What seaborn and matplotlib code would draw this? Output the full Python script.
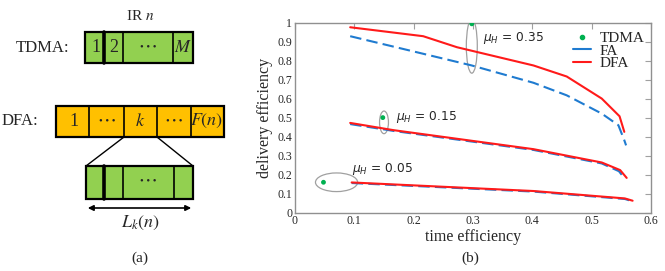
import numpy as np
import pandas as pd
import matplotlib
matplotlib.use("Agg")
import matplotlib.pyplot as plt
import seaborn as sns
from matplotlib.patches import Rectangle, Ellipse
from matplotlib.lines import Line2D

# ---------------- data ----------------
mu_labels = ["0.35", "0.15", "0.05"]

dfa_x_035 = [0.093, 0.216, 0.273, 0.402, 0.458, 0.517, 0.547, 0.555]
dfa_y_035 = [0.975, 0.928, 0.870, 0.774, 0.716, 0.600, 0.507, 0.425]
fa_x_035 = [0.093, 0.298, 0.402, 0.458, 0.517, 0.545, 0.555, 0.558]
fa_y_035 = [0.928, 0.774, 0.683, 0.617, 0.521, 0.460, 0.381, 0.354]

dfa_x_015 = [0.093, 0.166, 0.402, 0.517, 0.548, 0.559]
dfa_y_015 = [0.472, 0.434, 0.334, 0.264, 0.224, 0.183]
fa_x_015 = [0.093, 0.166, 0.402, 0.517, 0.546, 0.556]
fa_y_015 = [0.466, 0.430, 0.330, 0.259, 0.218, 0.178]

dfa_x_005 = [0.0955, 0.402, 0.556, 0.569]
dfa_y_005 = [0.159, 0.114, 0.075, 0.063]
fa_x_005 = [0.0955, 0.402, 0.556, 0.569]
fa_y_005 = [0.156, 0.111, 0.072, 0.060]

tdma_x = [0.298, 0.148, 0.048]
tdma_y = [0.993, 0.500, 0.160]

xticks = [0, 0.1, 0.2, 0.3, 0.4, 0.5, 0.6]
yticks = [0, 0.1, 0.2, 0.3, 0.4, 0.5, 0.6, 0.7, 0.8, 0.9, 1]

rows = []
for mu, (fx, fy, dx, dy) in zip(mu_labels, [
        (fa_x_035, fa_y_035, dfa_x_035, dfa_y_035),
        (fa_x_015, fa_y_015, dfa_x_015, dfa_y_015),
        (fa_x_005, fa_y_005, dfa_x_005, dfa_y_005)]):
    for x, y in zip(fx, fy):
        rows.append(dict(mu=mu, scheme="FA", x=x, y=y))
    for x, y in zip(dx, dy):
        rows.append(dict(mu=mu, scheme="DFA", x=x, y=y))
df = pd.DataFrame(rows)
tdma = pd.DataFrame(dict(x=tdma_x, y=tdma_y, mu=mu_labels))

# ---------------- figure ----------------
sns.set_style("white")
plt.rcParams["font.family"] = ["Liberation Serif", "DejaVu Serif"]
plt.rcParams["mathtext.fontset"] = "stix"

W, H = 665, 271
fig = plt.figure(figsize=(W / 100, H / 100), dpi=100)

# overlay axes in pixel coordinates for panel (a)
ov = fig.add_axes([0, 0, 1, 1])
ov.set_xlim(0, W)
ov.set_ylim(H, 0)
ov.axis("off")

green = "#92D050"
orange = "#FFC000"

def box(x0, x1, y0, y1, color, dividers, thick=()):
    ov.add_patch(Rectangle((x0, y0), x1 - x0, y1 - y0, facecolor=color,
                           edgecolor="black", lw=1.6, zorder=2))
    for d in dividers:
        lw = 2.6 if d in thick else 1.2
        ov.plot([d, d], [y0, y1], color="black", lw=lw, zorder=3)

fs = 12
dots = "• • •"
dfs = 7.5
ov.text(43, 48, "TDMA:", ha="center", va="center", fontsize=fs)
ov.text(140, 16, r"IR $n$", ha="center", va="center", fontsize=11)
box(85, 193, 32, 63, green, [104, 123, 173], thick=(104,))
for x, t in [(96, "1"), (114, "2"), (183, "$M$")]:
    ov.text(x, 48, t, ha="center", va="center", fontsize=fs + 1)
ov.text(148, 48, dots, ha="center", va="center", fontsize=dfs)

ov.text(20, 121, "DFA:", ha="center", va="center", fontsize=fs)
box(56, 224, 106, 137, orange, [89, 124, 157, 191])
for x, t in [(74, "1"), (140, "$k$"), (207, "$F(n)$")]:
    ov.text(x, 121, t, ha="center", va="center", fontsize=fs + 1)
for x in (107, 174):
    ov.text(x, 121, dots, ha="center", va="center", fontsize=dfs)
ov.plot([124, 86], [137, 166], color="black", lw=1.0)
ov.plot([157, 193], [137, 166], color="black", lw=1.0)
box(86, 193, 166, 199, green, [104, 123, 174], thick=(104,))
ov.text(148, 182, dots, ha="center", va="center", fontsize=dfs)
ov.annotate("", xy=(85, 208), xytext=(194, 208),
            arrowprops=dict(arrowstyle="<|-|>", color="black", lw=1.2,
                            mutation_scale=8))
ov.text(140, 223, "$L_k(n)$", ha="center", va="center", fontsize=fs + 1)
ov.text(140, 258, "(a)", ha="center", va="center", fontsize=11)
ov.text(470, 258, "(b)", ha="center", va="center", fontsize=11)

# ---------------- panel (b) ----------------
x0p, x1p, y0p, y1p = 295, 651, 22.5, 212.7
ax = fig.add_axes([x0p / W, 1 - y1p / H, (x1p - x0p) / W, (y1p - y0p) / H])

pal = {"FA": "#1F7BD0", "DFA": "#FF1A1A"}
for mu in mu_labels:
    sub = df[df.mu == mu]
    sns.lineplot(data=sub[sub.scheme == "FA"], x="x", y="y", ax=ax,
                 color=pal["FA"], lw=1.5, sort=False,
                 legend=False, zorder=3, linestyle=(0, (5.5, 2.5)))
    sns.lineplot(data=sub[sub.scheme == "DFA"], x="x", y="y", ax=ax,
                 color=pal["DFA"], lw=1.5, sort=False, legend=False, zorder=4)
sns.scatterplot(data=tdma, x="x", y="y", ax=ax, color="#00B050", s=12,
                edgecolor="none", zorder=5, legend=False)

# ellipses
ell_col = "#A0A0A0"
ax.add_patch(Ellipse((0.298, 0.876), 0.0185, 0.285, fill=False, ec=ell_col, lw=0.9))
ax.add_patch(Ellipse((0.150, 0.475), 0.015, 0.119, fill=False, ec=ell_col, lw=0.9))
ax.add_patch(Ellipse((0.070, 0.160), 0.071, 0.098, fill=False, ec=ell_col, lw=0.9))

mfs = 8.8
kw = dict(fontsize=mfs, family="DejaVu Sans", va="center", math_fontfamily="dejavusans")
ax.text(0.317, 0.92, r"$\mu_H$ = 0.35", **kw)
ax.text(0.171, 0.505, r"$\mu_H$ = 0.15", **kw)
ax.text(0.096, 0.228, r"$\mu_H$ = 0.05", **kw)

ax.set_xlim(0, 0.6)
ax.set_ylim(0, 1.0)
ax.set_xticks(xticks)
ax.set_yticks(yticks)
ax.set_xticklabels([f"{v:g}" for v in xticks])
ax.set_yticklabels([f"{v:g}" for v in yticks])
ax.tick_params(direction="in", length=4, width=0.8, color="#A0A0A0",
               labelsize=8.5, pad=2, top=True, right=True)
for s in ax.spines.values():
    s.set_color("#909090")
    s.set_linewidth(1.0)
ax.set_xlabel("time efficiency", fontsize=11.5, labelpad=1)
ax.set_ylabel("delivery efficiency", fontsize=11.5, labelpad=3)

handles = [Line2D([], [], marker="o", ls="none", color="#00B050", ms=3),
           Line2D([], [], color=pal["FA"], lw=1.5),
           Line2D([], [], color=pal["DFA"], lw=1.5)]
ax.legend(handles, ["TDMA", "FA", "DFA"], loc="upper right", frameon=False,
          fontsize=11, handlelength=1.2, handletextpad=0.6, labelspacing=-0.08,
          borderaxespad=0.0, bbox_to_anchor=(1.0, 0.985))

fig.savefig("out.png", dpi=100)
